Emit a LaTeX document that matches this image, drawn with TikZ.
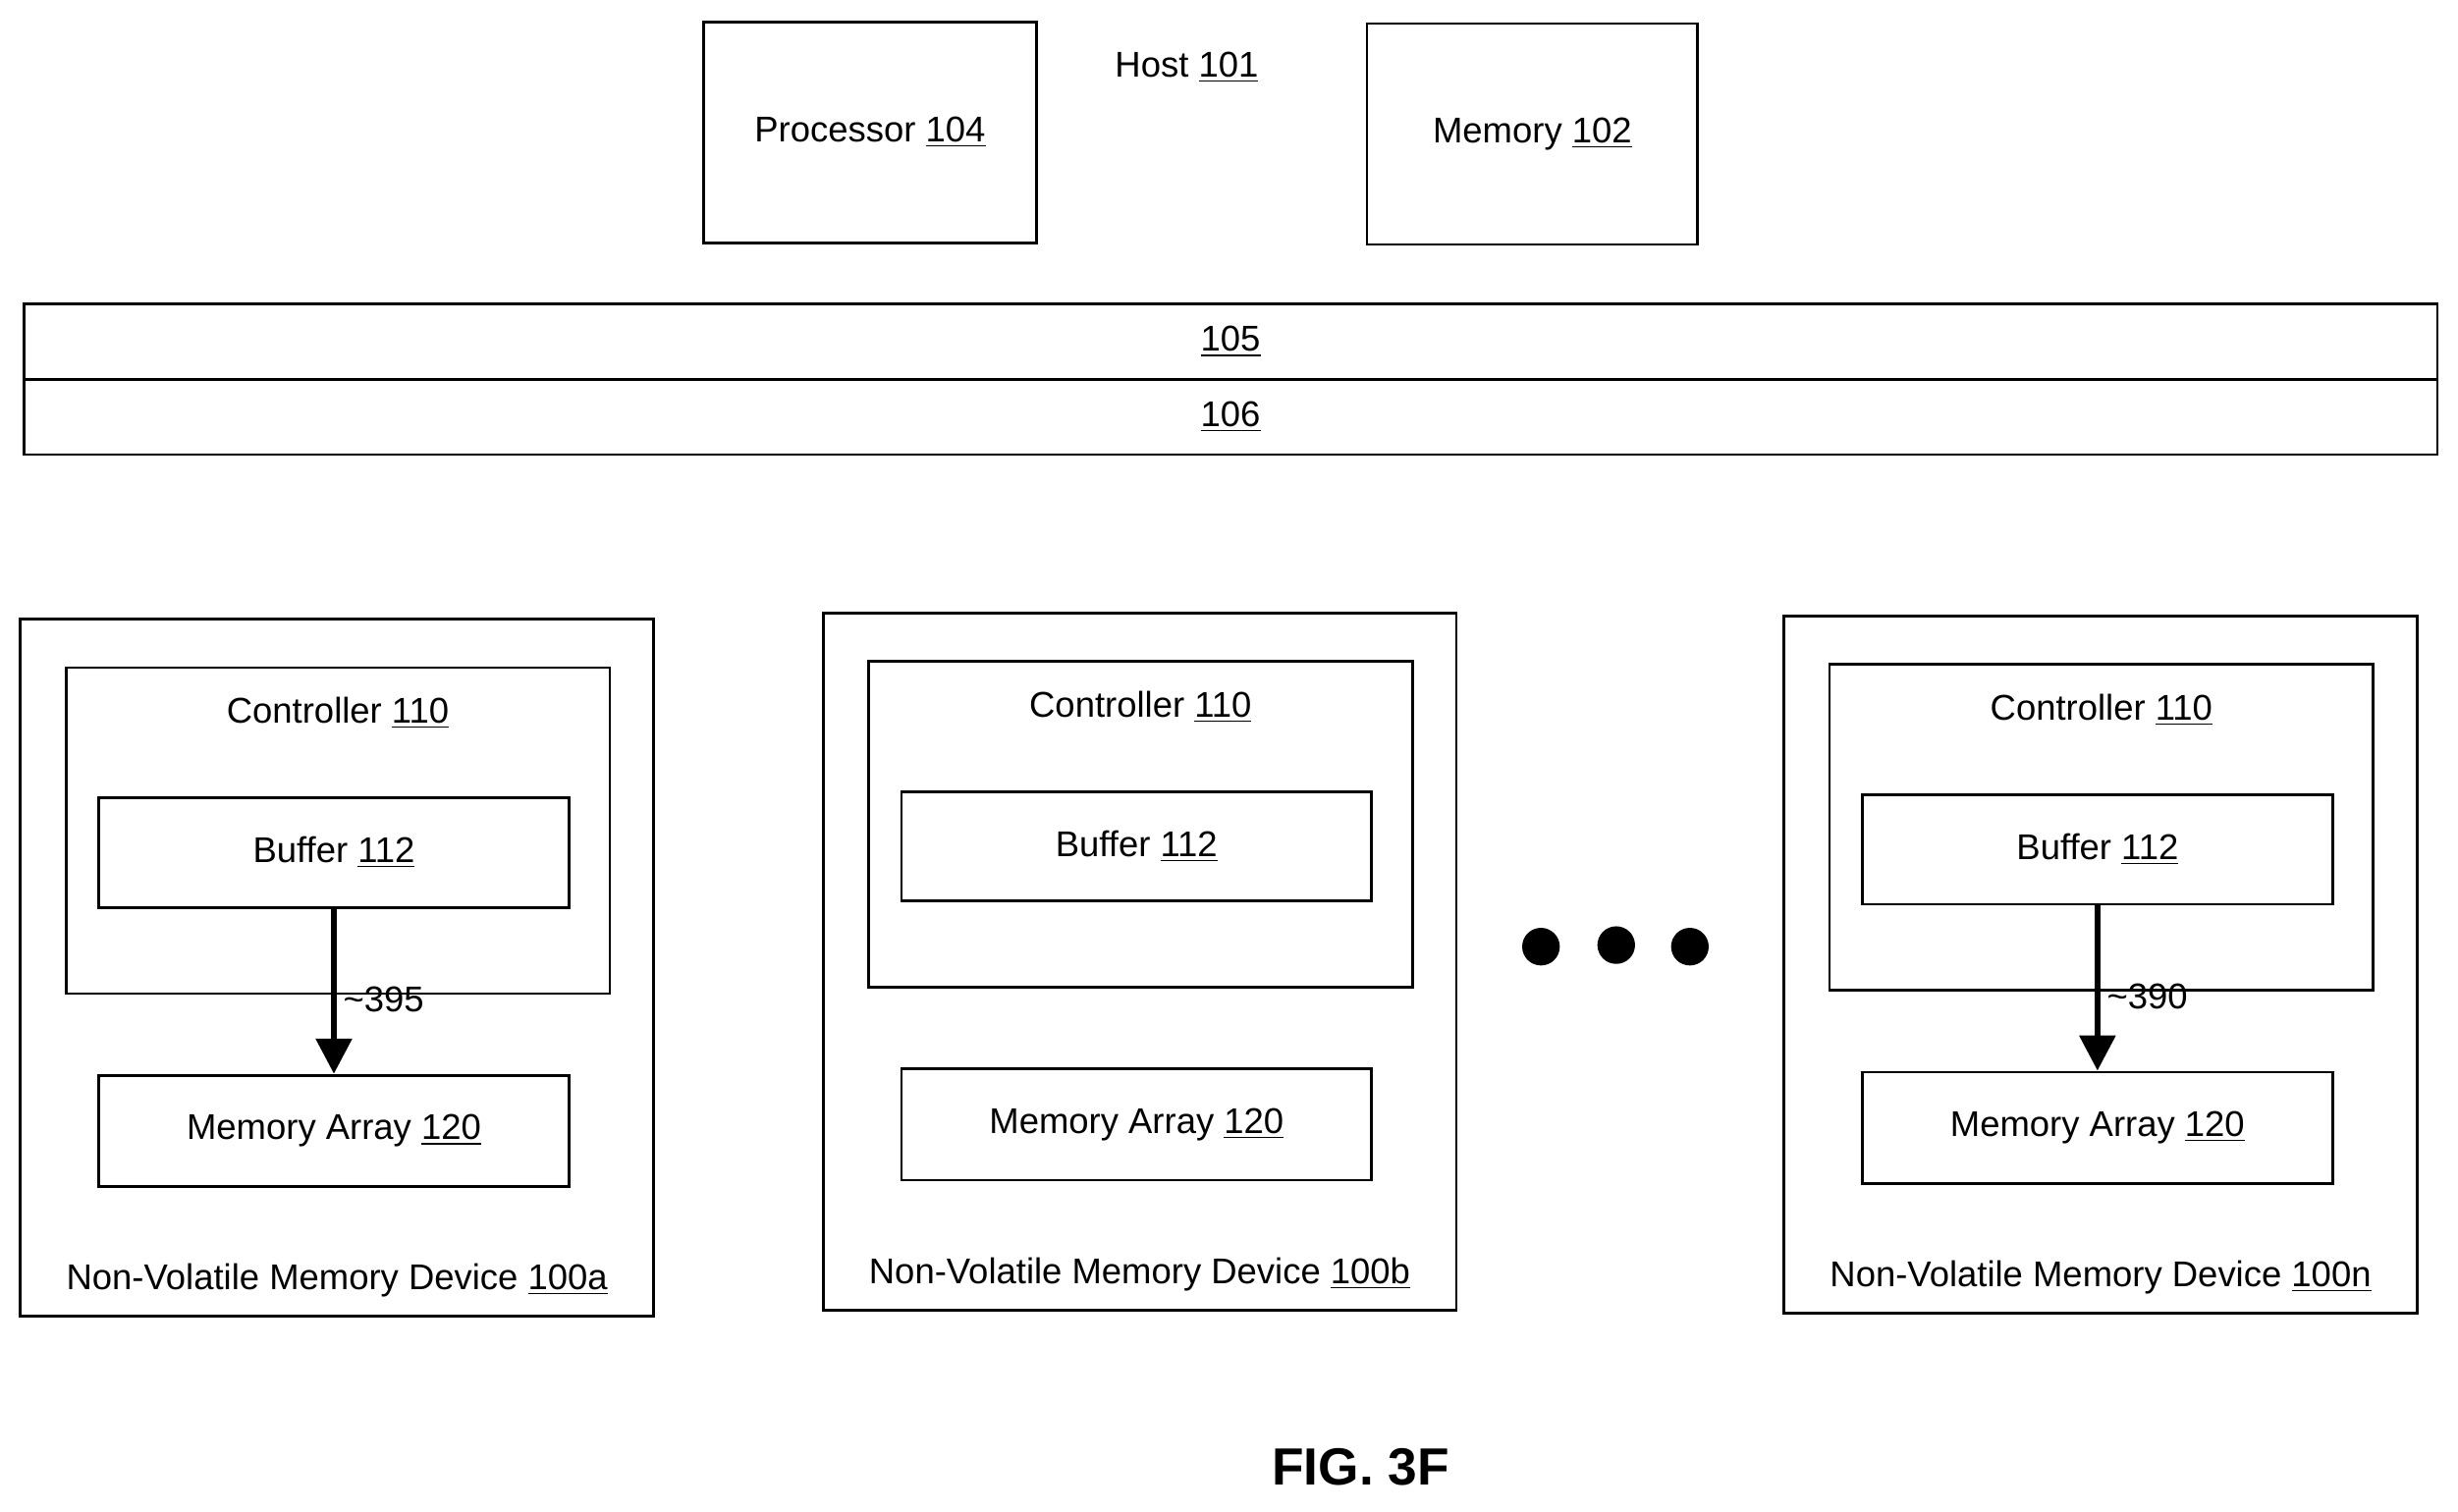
\documentclass[tikz,border=0pt]{standalone}
\usepackage{fontspec}
\setmainfont{Liberation Sans}
\usetikzlibrary{arrows.meta,positioning}
\newcommand{\refnum}[1]{\underline{#1}}
\begin{document}
\begin{tikzpicture}[x=0.02cm,y=-0.02cm,
    font=\fontsize{13}{15}\selectfont,
    box/.style={draw, line width=1pt, inner sep=0pt},
    dot/.style={circle, fill=black, minimum size=0.48cm, inner sep=0pt}]
\useasboundingbox (0,0) rectangle (1568,964.7);
%host
\node(proc)  [box, minimum width=4.24cm, minimum height=2.82cm] at (555,84.5) {Processor \refnum{104}};
\node(mem)   [box, minimum width=4.22cm, minimum height=2.82cm] at (977.5,85.5) {Memory \refnum{102}};
\node(host)  at (757,43) {Host \refnum{101}};
\node(b105)  [box, minimum width=30.8cm, minimum height=0.96cm] at (785,218) {\refnum{105}};
\node(b106)  [box, minimum width=30.8cm, minimum height=0.96cm] at (785,266) {\refnum{106}};
%devices
\foreach \nm/\dx/\dy/\lt in {a/13/395/a, b/525/391/b, n/1138/393/n}{
  \begin{scope}[shift={(\dx,\dy)}]
    \node(dev\nm)  [box, minimum width=8.08cm, minimum height=8.9cm] at (202,222.5) {};
    \node(ctl\nm)  [box, minimum width=6.94cm, minimum height=4.16cm] at (202.5,135) {};
    \node(ctlt\nm) at (202.5,60) {Controller \refnum{110}};
    \node(buf\nm)  [box, minimum width=6cm, minimum height=1.4cm] at (200,149) {Buffer \refnum{112}};
    \node(arr\nm)  [box, minimum width=6cm, minimum height=1.42cm] at (200,326.5) {Memory Array \refnum{120}};
    \node(devt\nm) at (202,422) {Non-Volatile Memory Device \refnum{100\lt}};
  \end{scope}
}
%arrows
\draw[line width=2.2pt, -{Triangle[length=0.45cm,width=0.45cm]}] (bufa.south) -- (arra.north)
  node[pos=0.55, right=-1pt] {\textasciitilde 395};
\draw[line width=2.2pt, -{Triangle[length=0.45cm,width=0.45cm]}] (bufn.south) -- (arrn.north)
  node[pos=0.55, right=-1pt] {\textasciitilde 390};
%dots
\node(d1) [dot] at (983,604) {};
\node(d2) [dot] at (1031,603) {};
\node(d3) [dot] at (1078,604) {};
\node(fig) at (868,936) {\fontsize{19}{22}\selectfont\bfseries FIG. 3F};
\end{tikzpicture}
\end{document}
